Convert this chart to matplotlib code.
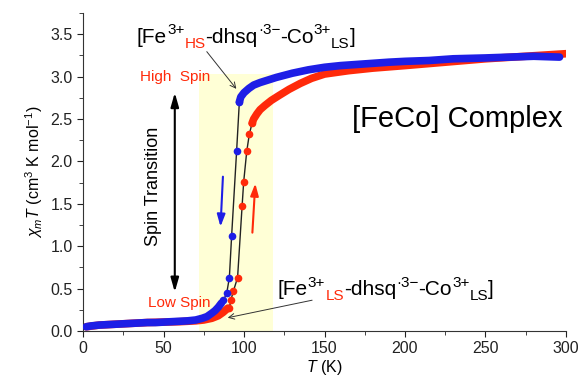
import numpy
import matplotlib
matplotlib.use("Agg")
import matplotlib.pyplot as plt

plt.rcParams['font.family'] = ['Liberation Sans', 'DejaVu Sans']
plt.rcParams['mathtext.fontset'] = 'custom'
plt.rcParams['mathtext.rm'] = 'Liberation Sans'
plt.rcParams['mathtext.it'] = 'Liberation Sans:italic'

BLUE = '#1e1ee6'
RED = '#ff2a0a'

# cooling branch (blue): dense low-T part, sparse transition, dense high-T part
cool_low_T = [2, 5, 10, 15, 20, 25, 30, 35, 40, 45, 50, 55, 60, 65, 70, 74, 77, 80, 82, 84, 86]
cool_low_chi = [0.05, 0.06, 0.07, 0.075, 0.08, 0.085, 0.09, 0.095, 0.10, 0.10, 0.105, 0.11,
                0.115, 0.12, 0.13, 0.15, 0.17, 0.21, 0.24, 0.28, 0.33]
cool_tr_T = [97.1, 95.4, 92.3, 90.9, 89.3, 87.2]
cool_tr_chi = [2.70, 2.12, 1.12, 0.63, 0.45, 0.36]
cool_high_T = [97.1, 98, 100, 103, 106, 110, 115, 120, 130, 140, 150, 160, 175, 190, 200,
               215, 230, 250, 265, 280, 296]
cool_high_chi = [2.70, 2.76, 2.81, 2.86, 2.90, 2.93, 2.96, 2.99, 3.04, 3.08, 3.11, 3.13, 3.15,
                 3.17, 3.18, 3.19, 3.21, 3.22, 3.23, 3.24, 3.23]

# heating branch (red)
heat_low_T = [2, 10, 20, 30, 40, 50, 60, 70, 75, 80, 84, 87, 90]
heat_low_chi = [0.05, 0.07, 0.08, 0.09, 0.10, 0.105, 0.11, 0.12, 0.13, 0.15, 0.18, 0.22, 0.27]
heat_tr_T = [90.9, 91.9, 93.4, 96.0, 98.8, 99.8, 101.7, 103.3, 105.0]
heat_tr_chi = [0.27, 0.37, 0.47, 0.63, 1.47, 1.76, 2.12, 2.32, 2.45]
heat_high_T = [105, 106, 108, 110, 113, 117, 122, 128, 135, 142, 150, 165, 180, 200, 225,
               250, 275, 300]
heat_high_chi = [2.45, 2.50, 2.56, 2.61, 2.66, 2.72, 2.78, 2.85, 2.92, 2.98, 3.03, 3.07,
                 3.10, 3.13, 3.17, 3.21, 3.24, 3.27]


def chem_label(ax, x, y, parts, size=15, small=11):
    # chain text pieces so sub/superscripts can have their own colour
    prev = None
    for text, kind, color in parts:
        fs = size if kind == 'n' else small
        dy = {'n': 0, 'sup': 6, 'sub': -3.5}[kind]
        if prev is None:
            t = ax.annotate(text, xy=(x, y), xycoords='data', xytext=(0, dy),
                            textcoords='offset points', fontsize=fs, color=color,
                            va='baseline', ha='left')
        else:
            t = ax.annotate(text, xy=(1, y), xycoords=(prev, 'data'), xytext=(0, dy),
                            textcoords='offset points', fontsize=fs, color=color,
                            va='baseline', ha='left')
        prev = t


fig = plt.figure(figsize=(5.79, 3.78), dpi=100)
ax = fig.add_axes([0.1434, 0.1243, 0.8341, 0.8413])

ax.axvspan(72, 118, ymin=0, ymax=3.03 / 3.75, color='#ffffd6', zorder=0, lw=0)

# red branch first, blue on top
ax.plot(heat_low_T, heat_low_chi, color=RED, lw=5.5, solid_capstyle='round', zorder=2)
ax.plot(heat_high_T, heat_high_chi, color=RED, lw=5.5, solid_capstyle='round', zorder=2)
ax.plot(heat_tr_T, heat_tr_chi, color='#222222', lw=1.0, zorder=3)
ax.plot(heat_tr_T, heat_tr_chi, 'o', color=RED, ms=5.5, mew=0, zorder=4)

ax.plot(cool_low_T, cool_low_chi, color=BLUE, lw=5.5, solid_capstyle='round', zorder=5)
ax.plot(cool_high_T, cool_high_chi, color=BLUE, lw=5.5, solid_capstyle='round', zorder=5)
ax.plot(cool_tr_T, cool_tr_chi, color='#222222', lw=1.0, zorder=6)
ax.plot(cool_tr_T, cool_tr_chi, 'o', color=BLUE, ms=5.5, mew=0, zorder=7)

ax.set_xlim(0, 300)
ax.set_ylim(0, 3.75)
ax.set_xticks(numpy.arange(0, 301, 50))
ax.set_xticks(numpy.arange(0, 301, 25), minor=True)
ax.set_yticks(numpy.arange(0, 3.6, 0.5))
ax.set_yticks(numpy.arange(0, 3.76, 0.25), minor=True)
ax.yaxis.set_major_formatter(matplotlib.ticker.FormatStrFormatter('%.1f'))
ax.tick_params(which='both', direction='out', labelsize=11.5, colors='#222222')
ax.tick_params(which='major', length=4)
ax.tick_params(which='minor', length=3)
for s in ['top', 'right']:
    ax.spines[s].set_visible(False)
for s in ['left', 'bottom']:
    ax.spines[s].set_color('#333333')

ax.set_xlabel(r'$T$ (K)', fontsize=11.5, labelpad=1)
ax.set_ylabel(r'$\chi_mT$ (cm$^3$ K mol$^{-1}$)', fontsize=11.5, labelpad=4)

chem_label(ax, 33.5, 3.40, [('[Fe', 'n', 'k'), ('3+', 'sup', 'k'), ('HS', 'sub', RED),
                             ('-dhsq', 'n', 'k'), ('\u00b73\u2212', 'sup', 'k'),
                             ('-Co', 'n', 'k'), ('3+', 'sup', 'k'), ('LS', 'sub', 'k'),
                             (']', 'n', 'k')])
chem_label(ax, 121, 0.425, [('[Fe', 'n', 'k'), ('3+', 'sup', 'k'), ('LS', 'sub', RED),
                             ('-dhsq', 'n', 'k'), ('\u00b73\u2212', 'sup', 'k'),
                             ('-Co', 'n', 'k'), ('3+', 'sup', 'k'), ('LS', 'sub', 'k'),
                             (']', 'n', 'k')])

ax.annotate('', xy=(96.3, 2.83), xytext=(75.8, 3.32),
            arrowprops=dict(arrowstyle='->', lw=0.7, color='#333333'))
ax.annotate('', xy=(88.2, 0.15), xytext=(144, 0.37),
            arrowprops=dict(arrowstyle='->', lw=0.7, color='#333333'))

ax.text(79, 3.0, 'High  Spin', color=RED, fontsize=11, ha='right', va='center')
ax.text(79, 0.33, 'Low Spin', color=RED, fontsize=11, ha='right', va='center')
ax.text(43.5, 1.70, 'Spin Transition', rotation=90, fontsize=13, ha='center', va='center')
ax.text(298, 2.50, '[FeCo] Complex', fontsize=21, ha='right', va='center')

ax.annotate('', xy=(57, 2.81), xytext=(57, 0.46),
            arrowprops=dict(arrowstyle='<|-|>,head_width=0.2,head_length=0.7', lw=1.5,
                            color='k', mutation_scale=12, shrinkA=0, shrinkB=0))
ax.annotate('', xy=(85.4, 1.23), xytext=(86.9, 1.82),
            arrowprops=dict(arrowstyle='-|>,head_width=0.2,head_length=0.6', lw=1.5,
                            color=BLUE, mutation_scale=12, shrinkA=0, shrinkB=0))
ax.annotate('', xy=(107, 1.74), xytext=(105.2, 1.16),
            arrowprops=dict(arrowstyle='-|>,head_width=0.2,head_length=0.6', lw=1.5,
                            color=RED, mutation_scale=12, shrinkA=0, shrinkB=0))

fig.savefig('out.png', dpi=100)
